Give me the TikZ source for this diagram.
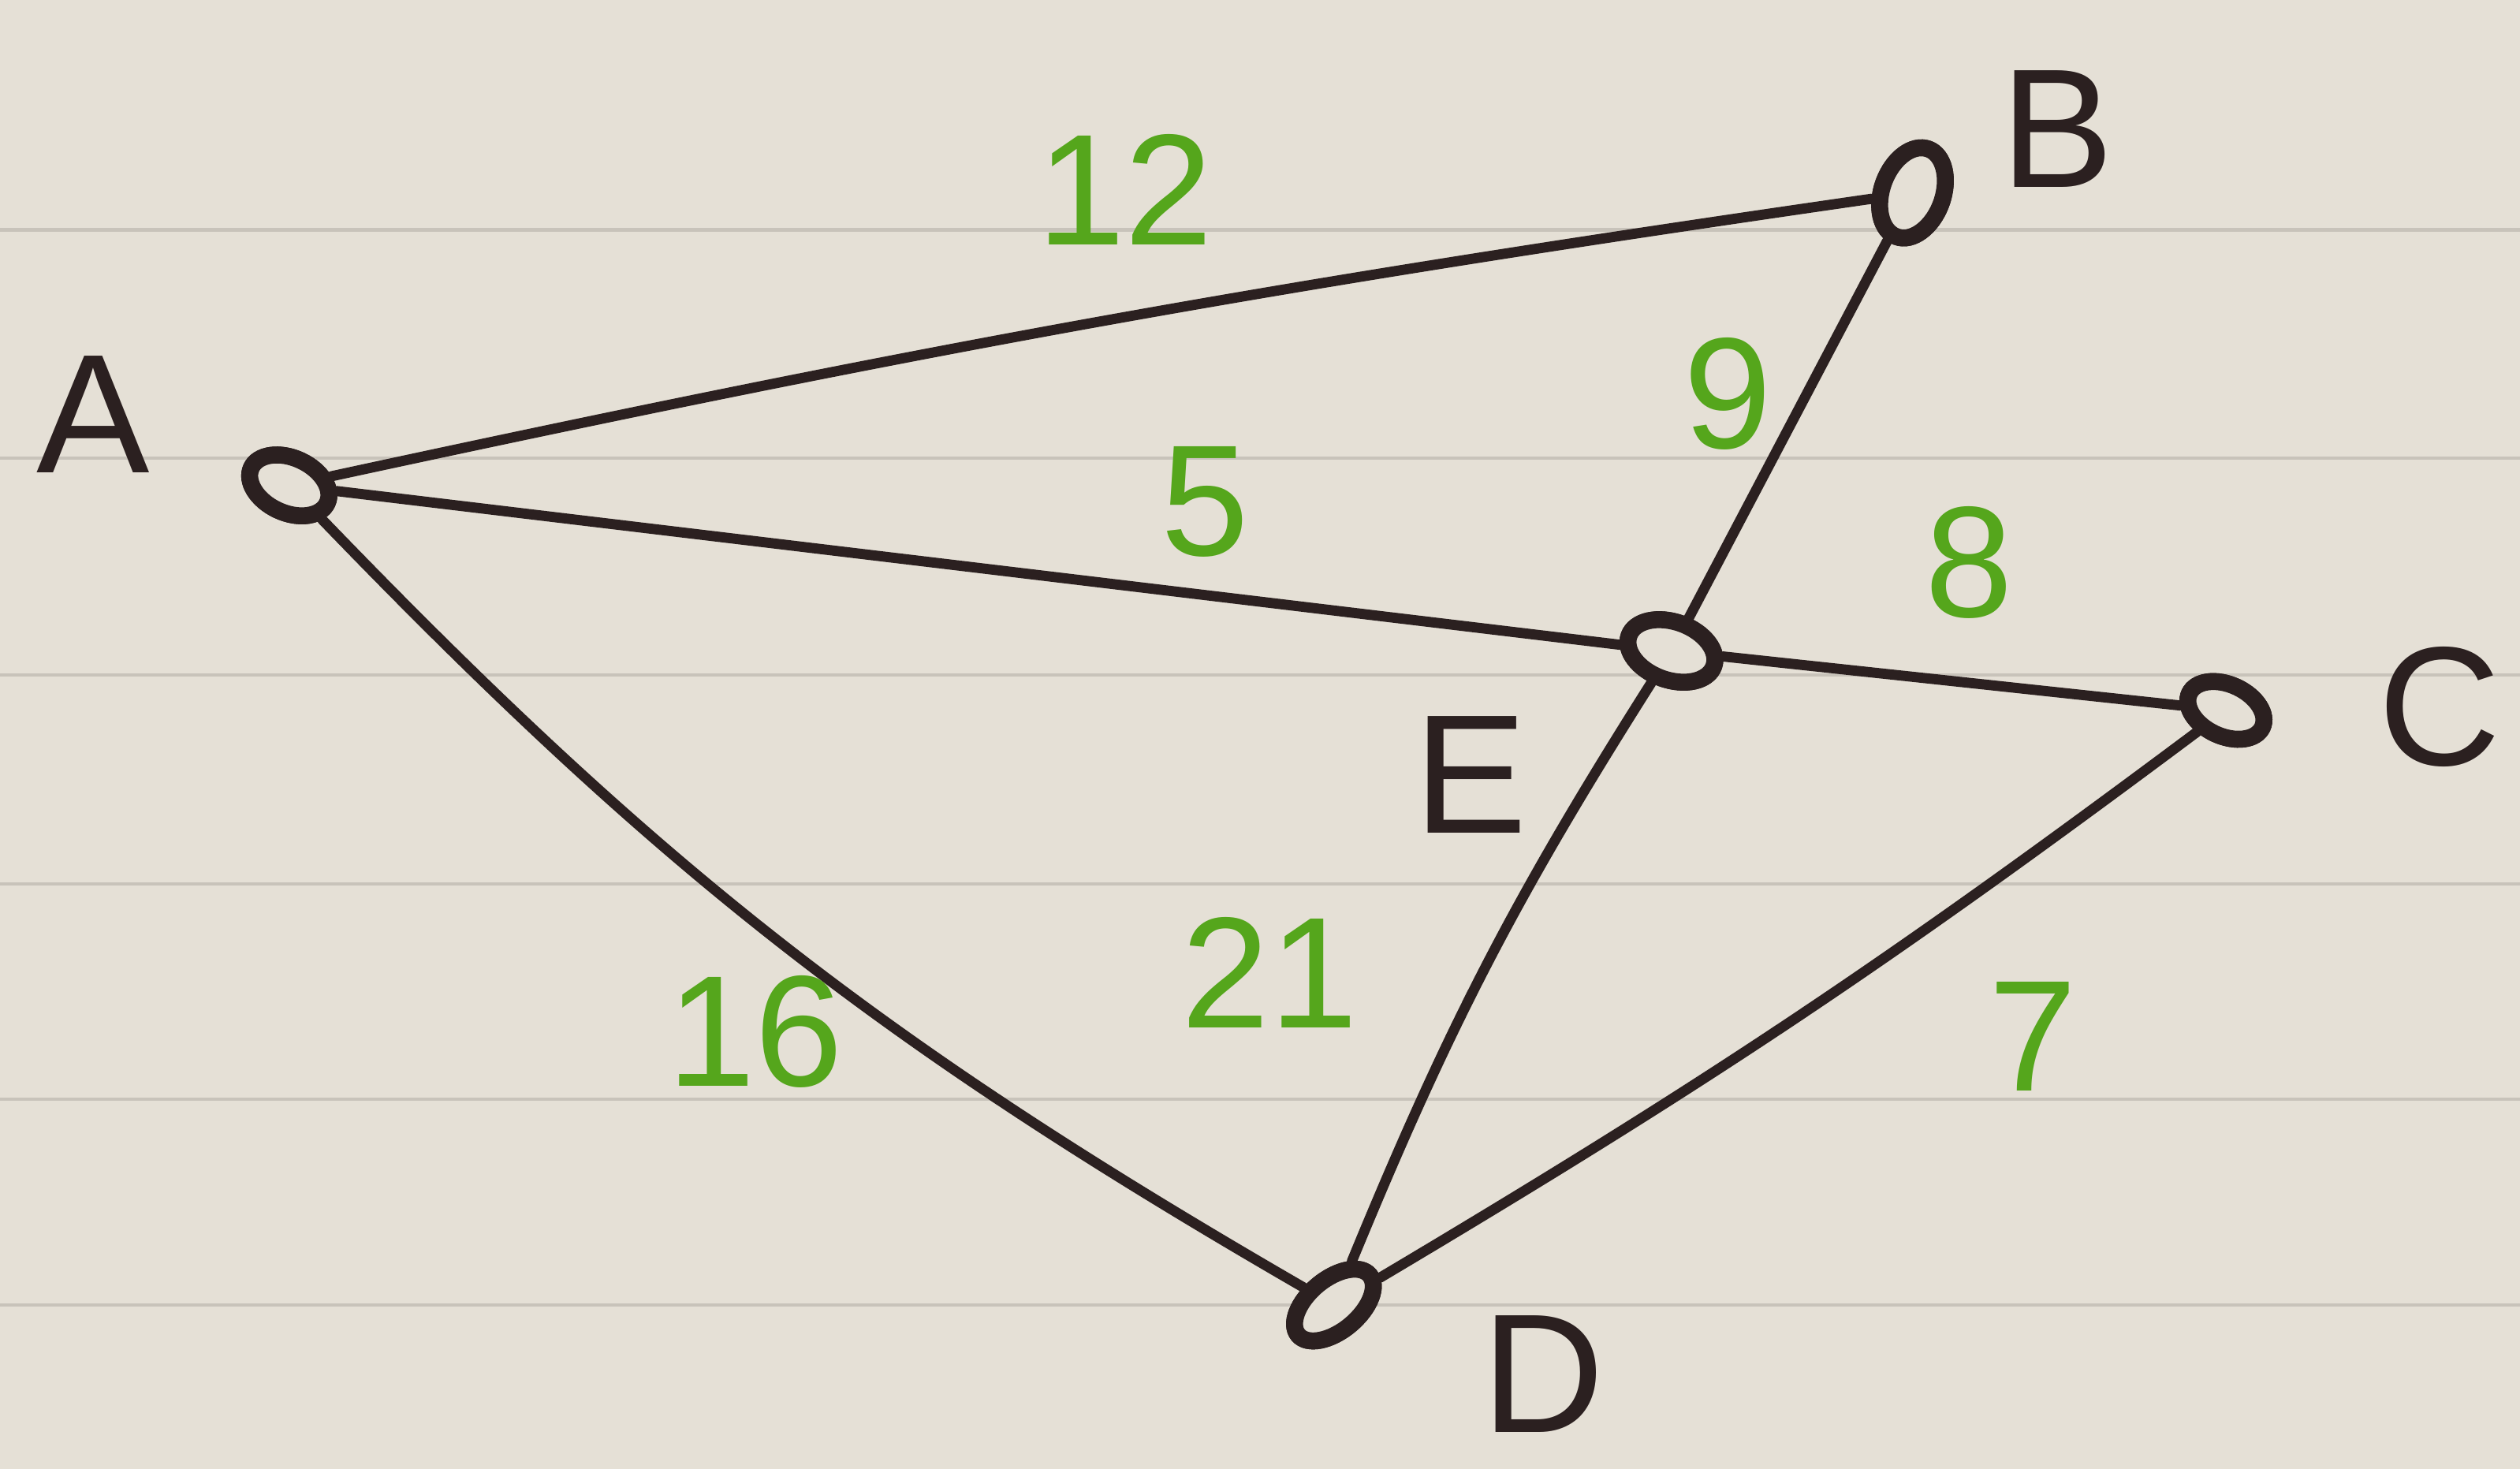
\documentclass[tikz,border=0pt]{standalone}
\usepackage{fontspec}
\setmainfont{Liberation Sans}
\usetikzlibrary{shapes.geometric}
\definecolor{paper}{HTML}{E5E0D6}
\definecolor{rule}{HTML}{C8C3BA}
\definecolor{ink}{HTML}{2B2020}
\definecolor{grn}{HTML}{55A61C}
\tikzset{
  vert/.style={ellipse,draw=ink,line width=3pt,fill=paper,inner sep=0pt},
  edge/.style={draw=ink,line width=1.8pt,line cap=round},
  lbl/.style={font=\fontsize{30}{32}\selectfont,text=ink,inner sep=0pt},
  wt/.style={font=\fontsize{28}{30}\selectfont,text=grn,inner sep=0pt},
  ruleline/.style={draw=rule,line width=0.6pt}
}
\begin{document}
\begin{tikzpicture}[x=0.01cm,y=-0.01cm]
\useasboundingbox (0,0) rectangle (1568,914);
\fill[paper] (0,0) rectangle (1568,914);
\foreach \yy in {143,285,420,550,684,812}
  \draw[ruleline] (0,\yy) -- (1568,\yy);
% vertices
\node[vert,minimum width=0.52cm,minimum height=0.34cm,rotate=-25] (A) at (180,302) {};
\node[vert,minimum width=0.58cm,minimum height=0.38cm,rotate=70] (B) at (1190,120) {};
\node[vert,minimum width=0.5cm,minimum height=0.32cm,rotate=-25] (C) at (1385,442) {};
\node[vert,minimum width=0.58cm,minimum height=0.32cm,rotate=40] (D) at (830,812) {};
\node[vert,minimum width=0.56cm,minimum height=0.36cm,rotate=-20] (E) at (1040,405) {};
% edges
\draw[edge] (A) to[bend left=2] (B);
\draw[edge] (A) -- (E);
\draw[edge] (E) -- (C);
\draw[edge] (B) -- (E);
\draw[edge] (E) to[bend right=5] (D);
\draw[edge] (A) to[bend right=8] (D);
\draw[edge] (C) to[bend left=3] (D);
% redraw vertices on top
\node[vert,minimum width=0.52cm,minimum height=0.34cm,rotate=-25] at (A) {};
\node[vert,minimum width=0.58cm,minimum height=0.38cm,rotate=70] at (B) {};
\node[vert,minimum width=0.5cm,minimum height=0.32cm,rotate=-25] at (C) {};
\node[vert,minimum width=0.58cm,minimum height=0.32cm,rotate=40] at (D) {};
\node[vert,minimum width=0.56cm,minimum height=0.36cm,rotate=-20] at (E) {};
% vertex labels
\node[lbl] (lA) at (58,258) {A};
\node[lbl] (lB) at (1280,80) {B};
\node[lbl] (lC) at (1518,440) {C};
\node[lbl] (lD) at (960,855) {D};
\node[lbl] (lE) at (915,482) {E};
% weights
\node[wt] (w12) at (700,118) {12};
\node[wt] (w9) at (1075,245) {9};
\node[wt] (w5) at (750,312) {5};
\node[wt] (w8) at (1225,350) {8};
\node[wt] (w16) at (470,642) {16};
\node[wt] (w21) at (790,605) {21};
\node[wt] (w7) at (1265,645) {7};
\end{tikzpicture}
\end{document}
